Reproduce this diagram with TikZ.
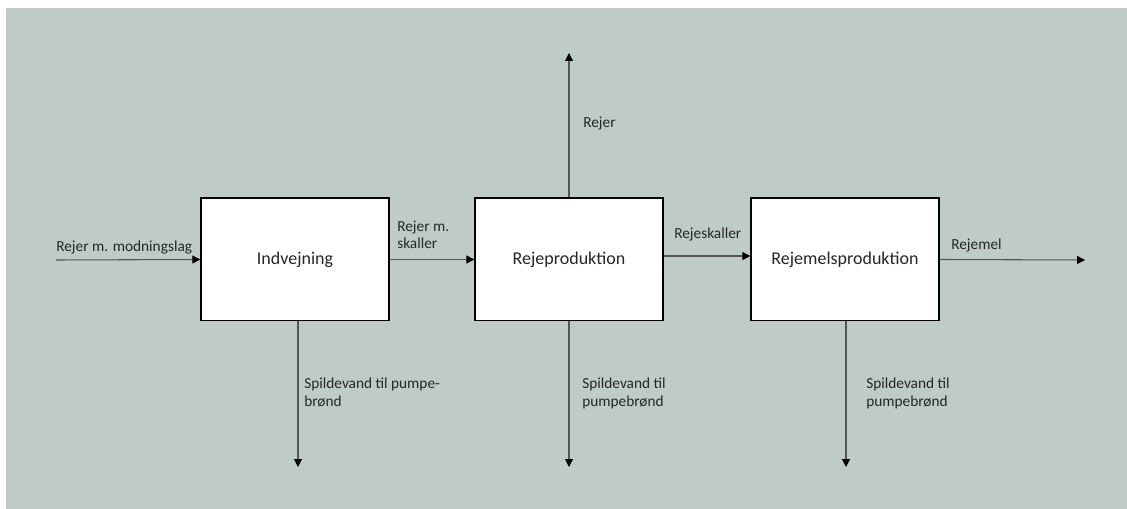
\documentclass[tikz,border=0pt]{standalone}
\usepackage{fontspec}
\setmainfont{Carlito}
\usetikzlibrary{arrows.meta}

\definecolor{bggray}{RGB}{191,203,199}
\definecolor{linegray}{RGB}{85,85,85}
\definecolor{textgray}{RGB}{38,38,38}

\tikzset{
  procbox/.style={draw=black, line width=1pt, fill=white, minimum width=141pt,
    minimum height=92pt, inner sep=0pt, font=\fontsize{13.5}{16}\selectfont, text=textgray},
  flow/.style={draw=linegray, line width=0.8pt, -{Triangle[length=6pt,width=6pt,color=black]}},
  lbl/.style={font=\fontsize{11.5}{13.5}\selectfont, text=textgray, inner sep=0pt, align=left}
}

\begin{document}
\begin{tikzpicture}[x=0.75pt, y=-0.75pt]
% Page and background
\useasboundingbox (0,0) rectangle (1127,509);
\fill[bggray] (6,8) rectangle (1127,509);

% Process boxes
\node[procbox] (indv) at (295,259.5) {Indvejning};
\node[procbox] (rprod) at (569,259.5) {Rejeproduktion};
\node[procbox] (mprod) at (845,259.5) {Rejemelsproduktion};

% Free ends
\coordinate (in) at (56,260);
\coordinate (out) at (1085,260);
\coordinate (up) at (569,53);
\coordinate (d1) at (298,467);
\coordinate (d2) at (569,467);
\coordinate (d3) at (846,467);

% Flows
\draw[flow] (in) -- (indv.west);
\draw[flow] (indv.east) -- (rprod.west);
\draw[flow] ([yshift=2.6pt]rprod.east) -- ([yshift=2.6pt]mprod.west);
\draw[flow] (mprod.east) -- (out);
\draw[flow] (rprod.north) -- (up);
\draw[flow] (indv.south -| d1) -- (d1);
\draw[flow] (rprod.south) -- (d2);
\draw[flow] (mprod.south -| d3) -- (d3);

% Labels
\node[lbl, anchor=base west] (lin) at (56,252) {Rejer m. modningslag};
\node[lbl, anchor=base west] (l12a) at (397,232) {Rejer m.};
\node[lbl, anchor=base west] (l12b) at (397,249) {skaller};
\node[lbl, anchor=base west] (l23) at (674,239) {Rejeskaller};
\node[lbl, anchor=base west] (lout) at (951,250) {Rejemel};
\node[lbl, anchor=base west] (lup) at (583,128) {Rejer};
\node[lbl, anchor=base west] (ld1a) at (304,388) {Spildevand til pumpe-};
\node[lbl, anchor=base west] (ld1b) at (304,406) {brønd};
\node[lbl, anchor=base west] (ld2a) at (582,388) {Spildevand til};
\node[lbl, anchor=base west] (ld2b) at (582,406) {pumpebrønd};
\node[lbl, anchor=base west] (ld3a) at (866,388) {Spildevand til};
\node[lbl, anchor=base west] (ld3b) at (866,406) {pumpebrønd};

\end{tikzpicture}
\end{document}
